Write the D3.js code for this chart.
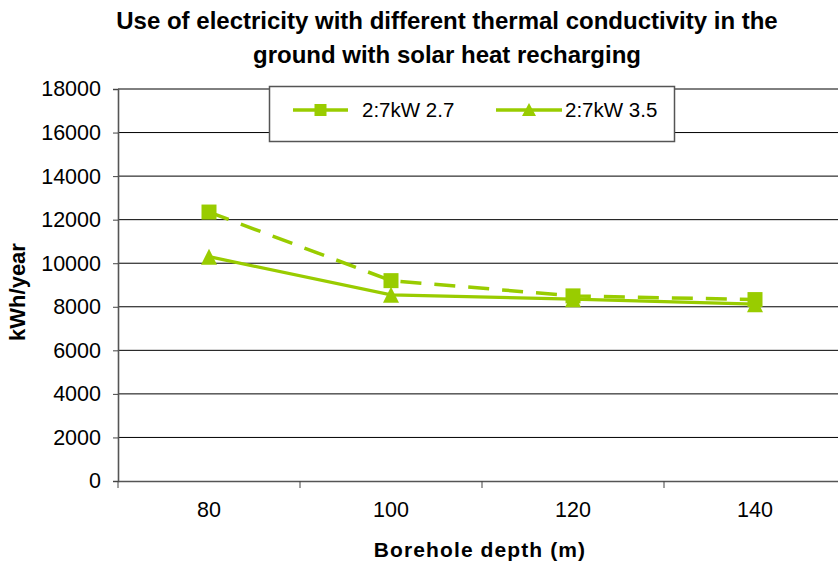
<!DOCTYPE html>
<html>
<head>
<meta charset="utf-8">
<script src="https://cdn.jsdelivr.net/npm/d3@7"></script>
<style>
  body { margin: 0; background: #fff; }
  svg { display: block; font-family: "Liberation Sans", Arial, sans-serif; }
</style>
</head>
<body>
<div id="chart"></div>
<script>
const categories = ["80", "100", "120", "140"];
const series27 = [12350, 9200, 8500, 8330];
const series35 = [10300, 8550, 8350, 8120];
const seriesNames = ["2:7kW 2.7", "2:7kW 3.5"];
const yTicks = [0, 2000, 4000, 6000, 8000, 10000, 12000, 14000, 16000, 18000];
const titleLines = ["Use of electricity with different thermal conductivity in the", "ground with solar heat recharging"];
const xTitle = "Borehole depth (m)";
const yTitle = "kWh/year";

const W = 838, H = 561;
const green = "#99CC00";
const svg = d3.select("#chart").append("svg").attr("width", W).attr("height", H);

const x = d3.scaleBand().domain(categories).range([118, 846]).padding(0);
const y = d3.scaleLinear().domain([0, 18000]).range([481, 89]);

// gridlines
svg.append("g").selectAll("line").data(yTicks.filter(d => d > 0)).join("line")
  .attr("x1", 118).attr("x2", 846)
  .attr("y1", d => y(d)).attr("y2", d => y(d))
  .attr("stroke", "#000").attr("stroke-width", 1);

// y axis
const yAxis = svg.append("g").attr("transform", "translate(118,0)")
  .call(d3.axisLeft(y).tickValues(yTicks).tickSize(5).tickPadding(12).tickFormat(d3.format("d")));
yAxis.select(".domain").attr("stroke", "#555").attr("stroke-width", 1.6);
yAxis.selectAll(".tick line").attr("stroke", "#444");
yAxis.selectAll("text").attr("font-size", 21.5).attr("fill", "#000").attr("font-family", "Liberation Sans, Arial, sans-serif");

// x axis
const xAxis = svg.append("g").attr("transform", "translate(0,481)")
  .call(d3.axisBottom(x).tickSize(0).tickPadding(21));
xAxis.select(".domain").attr("stroke", "#555").attr("stroke-width", 1.6);
xAxis.selectAll("text").attr("font-size", 21.5).attr("fill", "#000").attr("font-family", "Liberation Sans, Arial, sans-serif");
// boundary ticks between categories
const bounds = categories.map(c => x(c));
svg.append("g").selectAll("line").data(bounds).join("line")
  .attr("x1", d => d).attr("x2", d => d)
  .attr("y1", 481).attr("y2", 488)
  .attr("stroke", "#444").attr("stroke-width", 1);

const cx = c => x(c) + x.bandwidth() / 2;

// lines
const line = d3.line().x((d, i) => cx(categories[i])).y(d => y(d));
svg.append("path").datum(series27).attr("d", line)
  .attr("fill", "none").attr("stroke", green).attr("stroke-width", 3.5)
  .attr("stroke-dasharray", "21,13");
svg.append("path").datum(series35).attr("d", line)
  .attr("fill", "none").attr("stroke", green).attr("stroke-width", 3.2);

// markers
svg.append("g").selectAll("path").data(series35).join("path")
  .attr("transform", (d, i) => `translate(${cx(categories[i])},${y(d)})`)
  .attr("d", "M0,-8 L8,8 L-8,8 Z").attr("fill", green);
svg.append("g").selectAll("rect").data(series27).join("rect")
  .attr("x", (d, i) => cx(categories[i]) - 7.5).attr("y", d => y(d) - 7.5)
  .attr("width", 15).attr("height", 15).attr("fill", green);

// legend
const lg = svg.append("g");
lg.append("rect").attr("x", 269.5).attr("y", 86.5).attr("width", 405).attr("height", 55)
  .attr("fill", "#fff").attr("stroke", "#555").attr("stroke-width", 1.5);
const legendItems = [
  {name: seriesNames[0], x0: 293, x1: 348, tx: 362, marker: "square"},
  {name: seriesNames[1], x0: 496, x1: 562, tx: 565, marker: "triangle"}
];
legendItems.forEach(it => {
  lg.append("line").attr("x1", it.x0).attr("x2", it.x1).attr("y1", 110).attr("y2", 110)
    .attr("stroke", green).attr("stroke-width", 3.5);
  const mx = (it.x0 + it.x1) / 2;
  if (it.marker === "square") {
    lg.append("rect").attr("x", mx - 6).attr("y", 104).attr("width", 12).attr("height", 12).attr("fill", green);
  } else {
    lg.append("path").attr("transform", `translate(${mx},110)`).attr("d", "M0,-7 L7,6 L-7,6 Z").attr("fill", green);
  }
  lg.append("text").attr("x", it.tx).attr("y", 117).attr("font-size", 20.5).attr("fill", "#000").text(it.name);
});

// title
svg.append("g").selectAll("text").data(titleLines).join("text")
  .attr("x", 447).attr("y", (d, i) => 29 + i * 34)
  .attr("text-anchor", "middle").attr("font-size", 24).attr("font-weight", "bold").attr("fill", "#000")
  .text(d => d);

// axis titles
svg.append("text").attr("x", 480).attr("y", 557).attr("text-anchor", "middle")
  .attr("font-size", 21).attr("font-weight", "bold").attr("letter-spacing", 1.1).text(xTitle);
svg.append("text").attr("transform", "translate(25,292) rotate(-90)").attr("text-anchor", "middle")
  .attr("font-size", 22).attr("font-weight", "bold").text(yTitle);
</script>
</body>
</html>
